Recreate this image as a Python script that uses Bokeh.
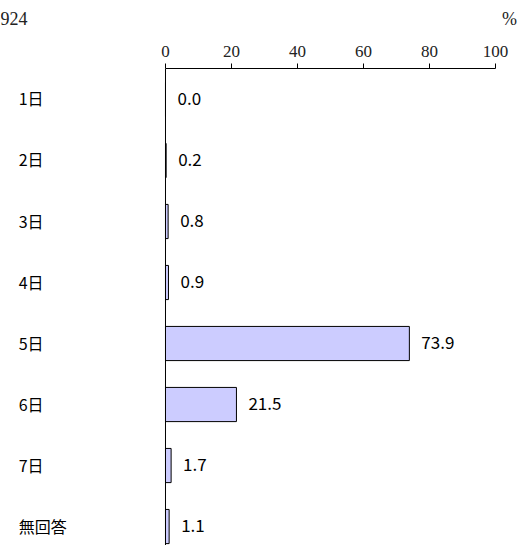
from bokeh.plotting import figure
from bokeh.models import ColumnDataSource, Range1d, LabelSet, FixedTicker, Span
from bokeh.layouts import column
from bokeh.core.properties import value
from bokeh.embed import file_html
from bokeh.resources import INLINE

categories = ["1日", "2日", "3日", "4日", "5日", "6日", "7日", "無回答"]
values = [0.0, 0.2, 0.8, 0.9, 73.9, 21.5, 1.7, 1.1]
value_labels = ["0.0", "0.2", "0.8", "0.9", "73.9", "21.5", "1.7", "1.1"]
x_ticks = [0, 20, 40, 60, 80, 100]
header_texts = ["924", "%"]
header_x = [-50.0, 106.5]
header_align = ["left", "right"]

W = 517
XR = (-50.0, 106.667)

idx = list(range(len(categories)))
src = ColumnDataSource(dict(y=idx, v=values, lab=value_labels, cat=categories,
                            cx=[-44.5] * len(categories)))

# header with the sample size and unit
h = figure(width=W, height=36, output_backend="svg", toolbar_location=None,
           x_range=Range1d(*XR), y_range=Range1d(0, 1),
           x_axis_location=None, y_axis_location=None,
           min_border=0)
h.outline_line_color = None
h.grid.visible = False
h.text(x=header_x, y=[0.5, 0.5], text=header_texts, text_baseline="middle",
       text_align=header_align, text_font=value("Liberation Serif"),
       text_font_size="18px", text_color="#222222")

p = figure(width=W, height=509, output_backend="svg", toolbar_location=None,
           x_range=Range1d(*XR), y_range=Range1d(7.311, -0.508),
           x_axis_location="above", y_axis_location=None,
           min_border_left=0, min_border_right=0,
           min_border_top=32, min_border_bottom=0)
p.outline_line_color = None
p.grid.visible = False

p.hbar(y="y", right="v", left=0, height=0.56, source=src,
       fill_color="#CCCCFF", line_color="black", line_width=1)

xa = p.xaxis[0]
xa.ticker = FixedTicker(ticks=x_ticks)
xa.bounds = (0, 100)
xa.major_tick_out = 5
xa.major_tick_in = 0
xa.minor_tick_line_color = None
xa.axis_line_color = "black"
xa.major_label_text_font = "Liberation Serif"
xa.major_label_text_font_size = "17px"
xa.major_label_text_color = "#222222"
xa.major_label_standoff = 7

p.add_layout(Span(location=0, dimension="height", line_color="black", line_width=1))

p.add_layout(LabelSet(x="v", y="y", text="lab", source=src, x_offset=12, y_offset=1,
                      text_baseline="middle", text_align="left",
                      text_font=value("Noto Sans CJK JP"), text_font_size="17px",
                      text_color="black"))
p.add_layout(LabelSet(x="cx", y="y", text="cat", source=src, y_offset=1,
                      text_baseline="middle", text_align="left",
                      text_font=value("Noto Sans CJK JP"), text_font_size="16px",
                      text_color="black"))

open("out.html", "w").write(file_html(column(h, p), INLINE))
